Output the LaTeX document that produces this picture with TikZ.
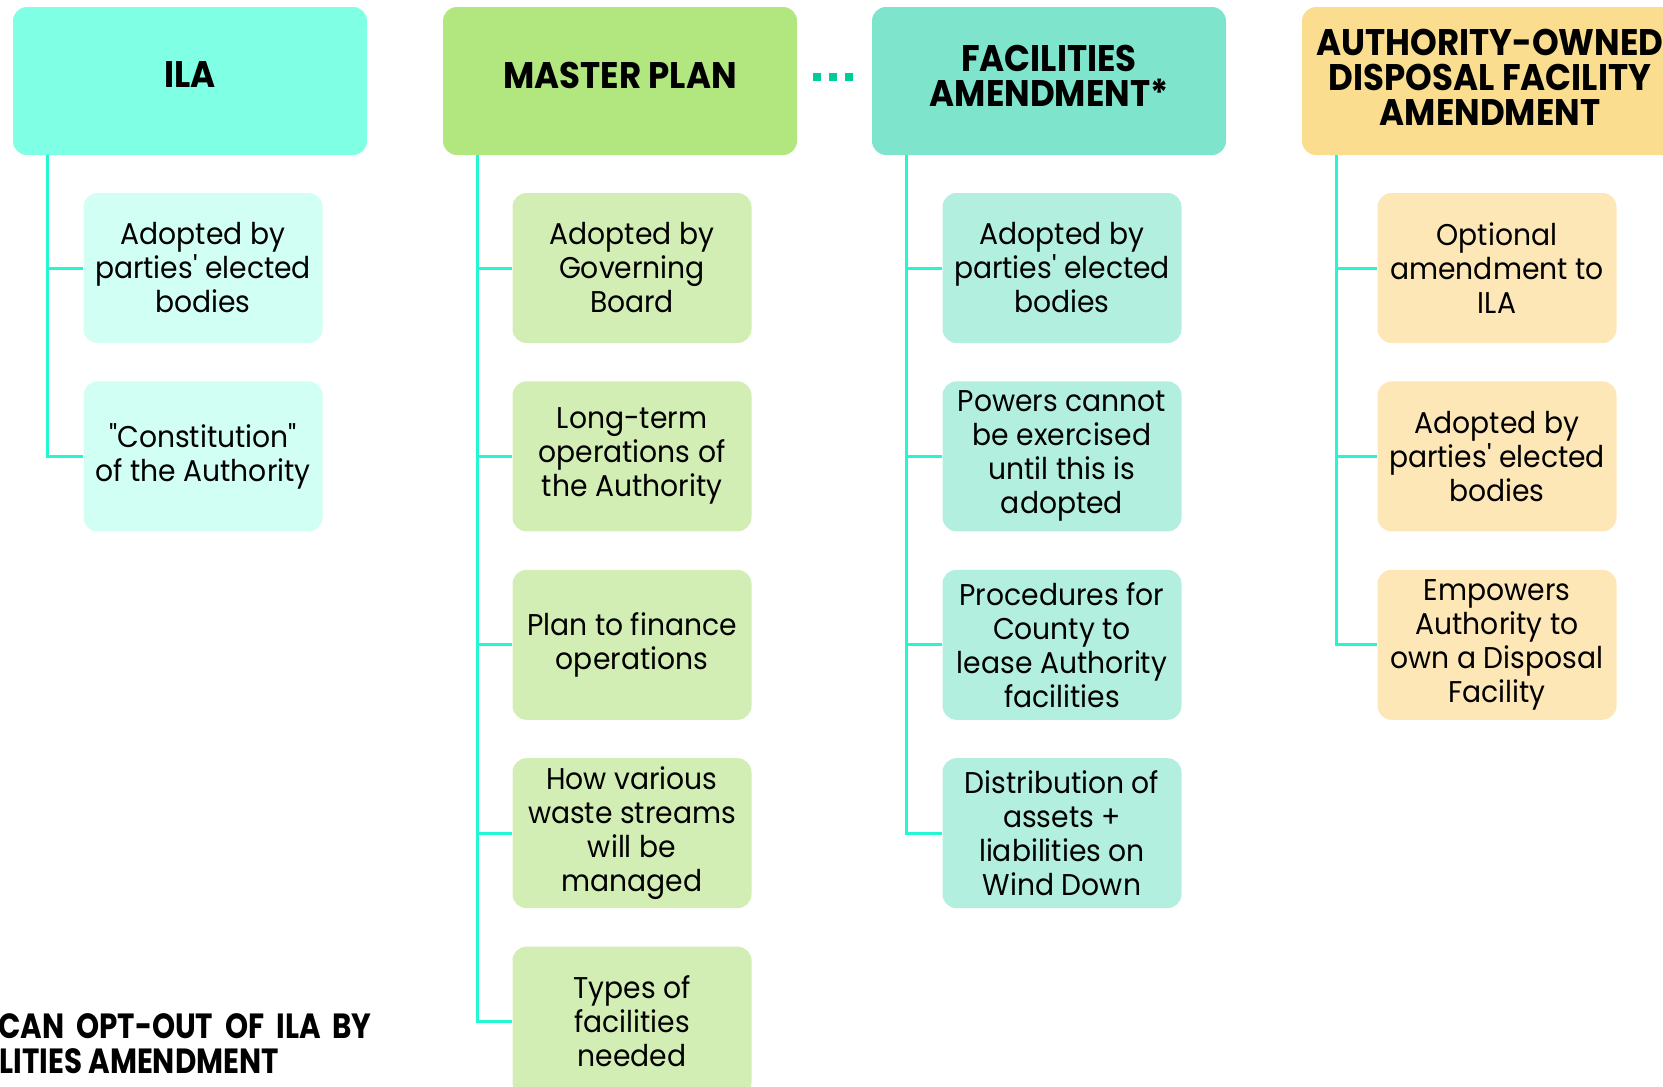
\documentclass[tikz,border=0pt]{standalone}
\usepackage{fontspec}
\setmainfont{Poppins}[FakeStretch=0.94, Ligatures=TeXOff]
\newfontfamily\headfont{Poppins}[FakeStretch=0.92, Ligatures=TeXOff]
\newfontfamily\notefont{Poppins}[FakeStretch=0.84, Ligatures=TeXOff]
\usetikzlibrary{positioning}

\definecolor{ilahead}{RGB}{127,255,227}
\definecolor{ilaitem}{RGB}{210,255,244}
\definecolor{mphead}{RGB}{178,230,127}
\definecolor{mpitem}{RGB}{210,238,181}
\definecolor{fachead}{RGB}{126,229,204}
\definecolor{facitem}{RGB}{178,239,223}
\definecolor{ownhead}{RGB}{250,221,143}
\definecolor{ownitem}{RGB}{253,231,182}
\definecolor{linkcol}{RGB}{36,245,210}
\definecolor{dotcol}{RGB}{0,204,153}

\tikzset{
  head/.style={rounded corners=14pt, minimum width=354pt,
    minimum height=148pt, inner sep=0pt},
  headtext/.style={font=\headfont\bfseries\fontsize{37}{35}\selectfont,
    align=center, inner sep=0pt},
  notetext/.style={font=\notefont\bfseries\fontsize{35}{35}\selectfont,
    inner sep=0pt},
  item/.style={rounded corners=14pt, minimum width=239pt,
    minimum height=150pt, inner sep=0pt, align=center,
    font=\fontsize{30}{34}\selectfont},
  link/.style={draw=linkcol, line width=3pt},
}

\begin{document}
\begin{tikzpicture}[x=1pt, y=-1pt]
        \useasboundingbox (0,0) rectangle (1663,1087);
        % no units = pt, y grows downwards

        % headers
        \node[head, fill=ilahead] (ila) at (190,81) {};
        \node[headtext] (ilat) at (190,75) {ILA};
        \node[head, fill=mphead] (mp) at (620,81) {};
        \node[headtext] (mpt) at (620,75) {MASTER PLAN};
        \node[head, fill=fachead] (fac) at (1049,81) {};
        \node[headtext] (fact) at (1049,76) {FACILITIES\\AMENDMENT*};
        \node[head, fill=ownhead, minimum width=376pt] (own) at (1490,81) {};
        \node[headtext] (ownt) at (1490,77)
          {AUTHORITY-OWNED\\DISPOSAL FACILITY\\AMENDMENT};

        \foreach \d in {817,833,849}
          \fill[dotcol] (\d-4,73) rectangle (\d+4,81);

        % ILA
        \node[item, fill=ilaitem] (ila1) at (203,268)
          {Adopted by\\parties' elected\\bodies};
        \node[item, fill=ilaitem, below=38pt of ila1] (ila2)
          {"Constitution"\\of the Authority};

        % master plan
        \node[item, fill=mpitem] (mp1) at (632,268)
          {Adopted by\\Governing\\Board};
        \node[item, fill=mpitem, below=38pt of mp1] (mp2)
          {Long-term\\operations of\\the Authority};
        \node[item, fill=mpitem, below=38pt of mp2] (mp3)
          {Plan to finance\\operations};
        \node[item, fill=mpitem, below=38pt of mp3] (mp4)
          {How various\\waste streams\\will be\\managed};
        \node[item, fill=mpitem, below=38pt of mp4] (mp5)
          {Types of\\facilities\\needed};

        % facilities amendment
        \node[item, fill=facitem] (fac1) at (1062,268)
          {Adopted by\\parties' elected\\bodies};
        \node[item, fill=facitem, below=38pt of fac1] (fac2)
          {Powers cannot\\be exercised\\until this is\\adopted};
        \node[item, fill=facitem, below=38pt of fac2] (fac3)
          {Procedures for\\County to\\lease Authority\\facilities};
        \node[item, fill=facitem, below=38pt of fac3] (fac4)
          {Distribution of\\assets +\\liabilities on\\Wind Down};

        % authority-owned disposal facility amendment
        \node[item, fill=ownitem] (own1) at (1497,268)
          {Optional\\amendment to\\ILA};
        \node[item, fill=ownitem, below=38pt of own1] (own2)
          {Adopted by\\parties' elected\\bodies};
        \node[item, fill=ownitem, below=38pt of own2] (own3)
          {Empowers\\Authority to\\own a Disposal\\Facility};

        % connectors
        \foreach \p/\c in {ila/ila1, ila/ila2, mp/mp1, mp/mp2, mp/mp3,
            mp/mp4, mp/mp5, fac/fac1, fac/fac2, fac/fac3, fac/fac4,
            own/own1, own/own2, own/own3}
          \draw[link] ([xshift=35pt]\p.south west) |- (\c.west);

        \node[notetext, anchor=base west,
          execute at begin node={\spaceskip=0.34em plus 0.1em}] (note1)
          at (-2,1038) {CAN OPT-OUT OF ILA BY};
        \node[notetext, anchor=base east] (note2) at (279,1073)
          {LITIES AMENDMENT};
      \end{tikzpicture}
\end{document}
